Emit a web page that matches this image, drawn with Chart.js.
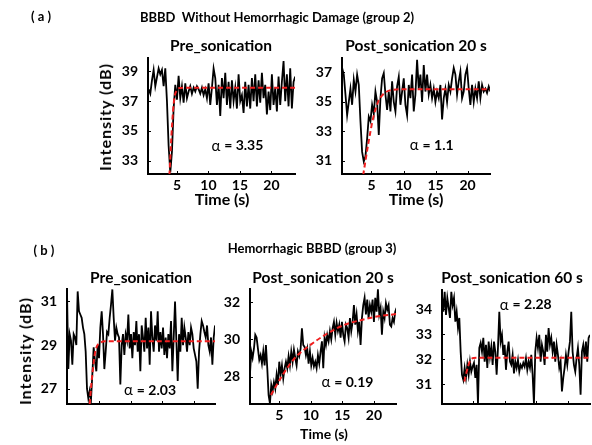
<!DOCTYPE html>
<html>
<head>
<meta charset="utf-8">
<script src="https://cdn.jsdelivr.net/npm/chart.js@4.4.1/dist/chart.umd.min.js"></script>
<style>
  html, body { margin: 0; padding: 0; background: #fff; }
  #fig { position: relative; width: 592px; height: 445px; overflow: hidden;
         font-family: Lato, 'Open Sans', sans-serif; font-weight: 700; color: #000; }
  #fig canvas { position: absolute; left: 0; top: 0; }
  .txt { position: absolute; transform: translate(-50%, -50%); white-space: pre; font-size: 13px; line-height: 1; }
  .sub { font-size: 15.5px; }
  .eixoA { font-size: 16px; }
  .eixoY { font-size: 16px; letter-spacing: 1px; }
  .eixoB { font-size: 14px; }
  .rot { transform: translate(-50%, -50%) rotate(-90deg); }
</style>
</head>
<body>
<div id="fig">
  <canvas id="a1" width="592" height="445"></canvas>
  <canvas id="a2" width="592" height="445"></canvas>
  <canvas id="b1" width="592" height="445"></canvas>
  <canvas id="b2" width="592" height="445"></canvas>
  <canvas id="b3" width="592" height="445"></canvas>

  <div class="txt" style="left:41px;top:16px">( a )</div>
  <div class="txt" style="left:277px;top:17px">BBBD  Without Hemorrhagic Damage (group 2)</div>
  <div class="txt sub" style="left:221px;top:46px">Pre_sonication</div>
  <div class="txt sub" style="left:416px;top:46px">Post_sonication 20 s</div>
  <div class="txt eixoY rot" style="left:105px;top:117px">Intensity (dB)</div>
  <div class="txt eixoA" style="left:222px;top:199px">Time (s)</div>
  <div class="txt eixoA" style="left:416px;top:199px">Time (s)</div>

  <div class="txt" style="left:44px;top:250px">( b )</div>
  <div class="txt" style="left:312px;top:248px">Hemorrhagic BBBD (group 3)</div>
  <div class="txt sub" style="left:141px;top:278px">Pre_sonication</div>
  <div class="txt sub" style="left:323px;top:278px">Post_sonication 20 s</div>
  <div class="txt sub" style="left:512px;top:278px">Post_sonication 60 s</div>
  <div class="txt eixoY rot" style="left:25px;top:351px">Intensity (dB)</div>
  <div class="txt eixoB" style="left:324px;top:434px">Time (s)</div>
</div>
<script>
// ===== Dados =====
// (a) grupo 2, pré-sonicação
const a1Inicio = 0.50, a1Passo = 0.2646;
const a1Valores = [37.8, 37.5, 38.4, 39.1, 38.0, 38.6, 39.2, 38.8, 39.1, 38.0, 39.2, 37.0, 34.0, 32.2, 33.6, 36.5,
  38.1, 37.1, 38.7, 37.2, 38.0, 36.9, 38.2, 37.2, 37.65, 38.0, 37.5, 37.9, 37.65, 38.0, 37.8, 37.5, 37.9, 37.4,
  37.8, 37.2, 38.2, 36.75, 37.9, 39.2, 38.55, 36.75, 38.1, 36.0, 38.55, 37.2, 38.9, 36.75, 38.3, 36.5, 38.4, 37.0,
  37.9, 36.5, 38.8, 37.0, 37.4, 36.2, 38.3, 36.65, 38.1, 36.5, 38.55, 37.0, 38.8, 36.65, 38.4, 36.9, 38.9, 37.2,
  38.1, 36.1, 37.65, 36.4, 38.8, 36.75, 37.9, 36.3, 38.65, 36.75, 38.3, 39.7, 37.0, 38.8, 36.65, 39.2, 36.5, 38.3, 38.65];
const a1AjusteT = [3.8, 4.1, 4.37, 4.63, 5.0, 5.53, 7.0, 23.8];
const a1AjusteV = [32.0, 34.5, 36.3, 37.3, 37.75, 37.88, 37.9, 37.9];

// (a) grupo 2, pós-sonicação 20 s
const a2Inicio = 0.42, a2Passo = 0.26;
const a2Valores = [37.3, 36.85, 35.5, 34.1, 35.0, 35.9, 34.8, 36.5, 35.7, 36.85, 36.15, 33.7, 31.6, 30.95, 31.3, 32.5,
  34.0, 33.7, 34.8, 34.2, 35.7, 35.0, 32.75, 35.25, 36.6, 36.95, 35.5, 34.45, 35.7, 34.35, 36.4, 35.0, 34.35, 36.05,
  36.7, 34.8, 35.7, 36.6, 34.8, 34.1, 36.15, 35.25, 36.85, 34.35, 35.5, 37.85, 35.9, 36.85, 35.0, 37.5, 35.7, 36.85,
  35.5, 36.15, 35.25, 35.9, 35.0, 35.7, 35.25, 36.15, 33.8, 35.25, 35.9, 35.0, 36.15, 35.7, 36.6, 37.3, 36.85, 35.5,
  36.4, 37.05, 35.25, 35.7, 36.85, 37.3, 35.9, 34.8, 36.15, 35.0, 35.9, 35.25, 36.4, 35.25, 36.15, 35.7, 35.9, 35.6,
  36.05, 35.7];
const a2AjusteT = [3.7, 4.1, 4.48, 5.26, 6.04, 6.8, 7.86, 9.7, 23.6];
const a2AjusteV = [30.0, 31.1, 32.1, 33.9, 35.0, 35.5, 35.78, 35.85, 35.85];

// (b) grupo 3, pré-sonicação
const b1Inicio = -0.08, b1Passo = 0.2116;
const b1Valores = [31.46, 27.9, 29.5, 29.2, 28.1, 29.5, 29.35, 29.0, 31.46, 30.55, 30.4, 30.25, 29.8, 29.5, 28.7,
  27.0, 26.55, 26.9, 26.5, 27.65, 28.9, 28.25, 27.8, 29.0, 28.4, 29.8, 30.55, 29.5, 27.9, 28.7, 29.6, 29.5, 30.25,
  30.85, 31.55, 30.25, 29.2, 29.8, 29.5, 29.35, 27.2, 29.0, 29.5, 28.55, 29.5, 29.2, 30.4, 28.85, 29.5, 28.4, 29.6,
  29.0, 30.1, 28.7, 29.5, 27.8, 29.9, 29.35, 28.7, 30.25, 28.85, 29.8, 28.1, 30.55, 29.35, 28.7, 29.9, 29.2, 30.55,
  28.7, 29.6, 28.85, 29.8, 28.55, 29.35, 28.4, 29.5, 28.85, 30.1, 27.8, 29.35, 31.0, 29.2, 27.35, 29.5, 28.7, 30.25,
  29.0, 29.8, 29.35, 28.7, 29.6, 29.0, 29.8, 29.5, 28.85, 28.55, 28.25, 27.0, 28.7, 29.5, 30.1, 29.9, 29.6, 29.35,
  29.9, 29.0, 28.7, 29.35, 28.1, 29.35, 29.9];
const b1AjusteT = [3.52, 3.78, 4.05, 4.31, 4.68, 5.2, 5.9, 23.4];
const b1AjusteV = [26.3, 27.2, 27.95, 28.55, 28.95, 29.1, 29.17, 29.17];

// (b) grupo 3, pós-sonicação 20 s
const b2Inicio = 0.35, b2Passo = 0.2113;
const b2Valores = [28.1, 29.35, 29.0, 29.5, 30.25, 30.1, 29.5, 28.9, 29.15, 28.7, 29.35, 28.6, 29.7, 28.45, 27.0,
  26.55, 27.55, 27.2, 27.7, 27.35, 28.1, 27.55, 28.8, 28.1, 28.6, 27.9, 28.45, 28.8, 28.45, 29.1, 28.6, 29.35, 28.8,
  29.45, 29.0, 28.6, 29.35, 29.1, 29.5, 30.6, 29.7, 29.6, 29.15, 29.5, 28.7, 29.35, 28.6, 29.0, 28.55, 28.8, 28.45,
  29.15, 28.7, 29.35, 29.9, 28.45, 30.1, 29.7, 30.25, 29.9, 30.45, 30.0, 30.6, 30.95, 30.25, 30.9, 30.45, 30.8,
  30.1, 30.95, 30.25, 29.9, 30.8, 30.6, 30.1, 31.15, 30.45, 30.95, 31.85, 30.8, 31.35, 30.45, 30.95, 29.7, 31.15,
  31.85, 32.25, 31.35, 32.15, 31.15, 31.85, 31.5, 32.15, 30.95, 32.25, 31.5, 32.7, 31.35, 31.7, 30.25, 31.5, 31.15,
  31.95, 31.6, 31.85, 30.8, 30.7, 31.15, 30.95, 31.5, 31.7];
const b2AjusteT = [3.68, 5.37, 7.48, 10.1, 12.77, 15.4, 18.05, 20.7, 23.6];
const b2AjusteV = [27.0, 28.0, 29.0, 29.75, 30.35, 30.8, 31.05, 31.25, 31.37];

// (b) grupo 3, pós-sonicação 60 s
const b3Inicio = 0.0, b3Passo = 0.2116;
const b3Valores = [34.57, 33.9, 34.7, 33.77, 34.45, 34.05, 33.65, 34.7, 34.17, 34.45, 33.5, 33.9, 33.25, 33.65, 32.3,
  31.37, 31.17, 31.65, 31.25, 31.77, 31.37, 31.9, 31.5, 31.7, 31.85, 31.25, 31.77, 30.2, 32.45, 32.65, 32.3, 32.85,
  31.9, 32.57, 31.65, 32.7, 32.1, 32.5, 31.77, 32.7, 32.3, 31.37, 32.45, 33.9, 32.7, 32.97, 32.17, 32.57, 31.57, 32.3,
  32.7, 31.9, 31.77, 32.17, 31.43, 31.9, 31.65, 31.97, 31.5, 31.77, 31.65, 31.85, 31.7, 32.04, 31.57, 31.9, 31.65,
  32.17, 31.37, 30.2, 32.3, 32.85, 32.45, 32.97, 31.9, 32.57, 32.3, 31.77, 32.97, 32.3, 33.24, 32.57, 32.85, 32.3,
  32.7, 31.9, 32.57, 32.17, 31.65, 31.9, 30.7, 31.25, 31.65, 32.17, 31.77, 32.3, 32.7, 33.9, 32.3, 31.77, 31.5, 32.04,
  32.45, 31.77, 30.57, 32.3, 32.57, 32.04, 32.7, 31.9, 32.85, 32.97];
const b3AjusteT = [3.55, 4.07, 4.5, 5.03, 5.82, 23.5];
const b3AjusteV = [31.1, 31.65, 31.95, 32.04, 32.05, 32.05];

// ===== Rótulos dos eixos =====
const ticksTempo = [5, 10, 15, 20];
const a1TicksY = [33, 35, 37, 39];
const a2TicksY = [31, 33, 35, 37];
const b1TicksY = [27, 29, 31];
const b2TicksY = [28, 30, 32];
const b3TicksY = [31, 32, 33, 34];
const alfas = ['3.35', '1.1', '2.03', '0.19', '2.28'];

// ===== Aparência =====
const FONTE = 'Lato, "Open Sans", sans-serif';
const LARG_Y = 40;   // largura reservada para o eixo y
const ALT_X = 22;    // altura reservada para o eixo x
const W = 592, H = 445;

// ===== Plugin: ticks para dentro, estilo MATLAB =====
const ticksDentro = {
  id: 'ticksDentro',
  afterDraw(chart) {
    const { ctx, chartArea: { left, bottom }, scales: { x, y } } = chart;
    ctx.save();
    ctx.strokeStyle = '#000';
    ctx.lineWidth = 1;
    x.ticks.forEach((t) => {
      const px = Math.round(x.getPixelForValue(t.value)) + 0.5;
      ctx.beginPath(); ctx.moveTo(px, bottom); ctx.lineTo(px, bottom - 3); ctx.stroke();
    });
    y.ticks.forEach((t) => {
      const py = Math.round(y.getPixelForValue(t.value)) + 0.5;
      ctx.beginPath(); ctx.moveTo(left, py); ctx.lineTo(left + 3, py); ctx.stroke();
    });
    ctx.restore();
  },
};

// ===== Plugin: escreve "α = ..." em coordenadas de dados =====
const alfaPlugin = {
  id: 'alfa',
  afterDatasetsDraw(chart, args, opts) {
    const { ctx, scales: { x, y } } = chart;
    const px = x.getPixelForValue(opts.t);
    const py = y.getPixelForValue(opts.v);
    const parte1 = 'α ';
    const parte2 = '= ' + opts.texto;
    ctx.save();
    ctx.textBaseline = 'middle';
    ctx.textAlign = 'left';
    ctx.fillStyle = '#000';
    ctx.font = `400 15px ${FONTE}`;
    const w1 = ctx.measureText(parte1).width;
    ctx.font = `700 14px ${FONTE}`;
    const w2 = ctx.measureText(parte2).width;
    const x0 = px - (w1 + w2) / 2;
    ctx.font = `400 15px ${FONTE}`;
    ctx.fillText(parte1, x0, py);
    ctx.font = `700 14px ${FONTE}`;
    ctx.fillText(parte2, x0 + w1, py);
    ctx.restore();
  },
};

// ===== Cria um painel =====
function painel(id, caixa, serie, ajuste, faixaX, faixaY, ticksY, mostraX, alfa) {
  const [esq, topo, dir, base] = caixa;
  const pontos = serie.valores.map((v, i) => ({ x: serie.inicio + i * serie.passo, y: v }));
  const curva = ajuste.t.map((t, i) => ({ x: t, y: ajuste.v[i] }));
  const fonteTick = { family: FONTE, weight: 'bold', size: 14 };

  return new Chart(document.getElementById(id), {
    type: 'line',
    data: {
      datasets: [
        { data: curva, borderColor: '#f01e1e', borderWidth: 2, borderDash: [5, 3],
          pointRadius: 0, cubicInterpolationMode: 'monotone' },
        { data: pontos, borderColor: '#000', borderWidth: 1.8, pointRadius: 0, tension: 0 },
      ],
    },
    options: {
      responsive: false,
      animation: false,
      events: [],
      layout: {
        autoPadding: false,
        padding: { left: esq - LARG_Y, top: topo, right: W - dir, bottom: H - base - ALT_X },
      },
      plugins: {
        legend: { display: false },
        tooltip: { enabled: false },
        alfa: alfa,
      },
      scales: {
        x: {
          type: 'linear', min: faixaX[0], max: faixaX[1],
          grid: { display: false, drawTicks: false },
          border: { display: true, color: '#000', width: 2 },
          afterBuildTicks: (s) => { s.ticks = ticksTempo.map((v) => ({ value: v })); },
          afterFit: (s) => { s.height = ALT_X; },
          ticks: { font: fonteTick, color: '#000', padding: 3, maxRotation: 0,
                   callback: (v) => (mostraX ? String(v) : '') },
        },
        y: {
          type: 'linear', min: faixaY[0], max: faixaY[1],
          grid: { display: false, drawTicks: false },
          border: { display: true, color: '#000', width: 2 },
          afterBuildTicks: (s) => { s.ticks = ticksY.map((v) => ({ value: v })); },
          afterFit: (s) => { s.width = LARG_Y; },
          ticks: { font: fonteTick, color: '#000', padding: 10, callback: (v) => String(v) },
        },
      },
    },
    plugins: [ticksDentro, alfaPlugin],
  });
}

// ===== Inicialização =====
painel('a1', [148, 58, 295, 174],
  { inicio: a1Inicio, passo: a1Passo, valores: a1Valores }, { t: a1AjusteT, v: a1AjusteV },
  [0.4, 23.75], [32.1, 39.9], a1TicksY, true, { t: 14.6, v: 34.0, texto: alfas[0] });

painel('a2', [342, 58, 490, 174],
  { inicio: a2Inicio, passo: a2Passo, valores: a2Valores }, { t: a2AjusteT, v: a2AjusteV },
  [0.4, 23.5], [30.1, 37.98], a2TicksY, true, { t: 14.4, v: 32.03, texto: alfas[1] });

painel('b1', [67, 289, 215, 404],
  { inicio: b1Inicio, passo: b1Passo, valores: b1Valores }, { t: b1AjusteT, v: b1AjusteV },
  [-0.08, 23.4], [26.3, 31.57], b1TicksY, false, { t: 13.1, v: 26.92, texto: alfas[2] });

painel('b2', [250, 289, 396, 404],
  { inicio: b2Inicio, passo: b2Passo, valores: b2Valores }, { t: b2AjusteT, v: b2AjusteV },
  [0.36, 23.5], [26.52, 32.72], b2TicksY, true, { t: 15.8, v: 27.68, texto: alfas[3] });

painel('b3', [442, 290, 590, 404],
  { inicio: b3Inicio, passo: b3Passo, valores: b3Valores }, { t: b3AjusteT, v: b3AjusteV },
  [0, 23.5], [30.2, 34.77], b3TicksY, false, { t: 13.3, v: 34.17, texto: alfas[4] });
</script>
</body>
</html>
